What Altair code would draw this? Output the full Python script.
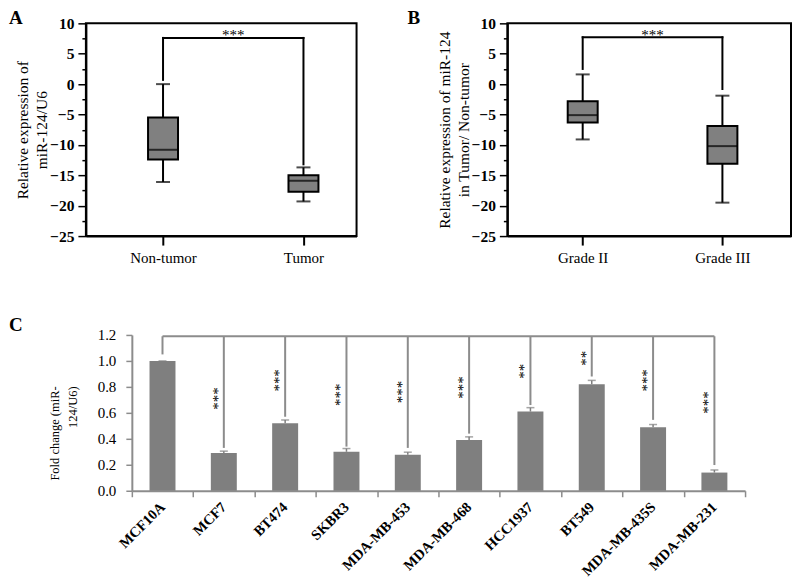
import altair as alt
import pandas as pd

SERIF = "Liberation Serif"

# ---------------- Panel A data ----------------
a_groups = ["Non-tumor", "Tumor"]
a_min = [-16.1, -19.3]
a_q1 = [-12.4, -17.7]
a_med = [-10.8, -15.9]
a_q3 = [-5.5, -15.0]
a_max = [0.0, -13.7]
a_bracket = [7.6, 0.7, -13.2]          # top, left end, right end
a_sig = "***"

# ---------------- Panel B data ----------------
b_groups = ["Grade II", "Grade III"]
b_min = [-9.1, -19.5]
b_q1 = [-6.3, -13.1]
b_med = [-5.1, -10.2]
b_q3 = [-2.8, -6.9]
b_max = [1.6, -1.9]
b_bracket = [7.7, 2.5, -0.8]
b_sig = "***"

# ---------------- Panel C data ----------------
c_lines = ["MCF10A", "MCF7", "BT474", "SKBR3", "MDA-MB-453", "MDA-MB-468",
           "HCC1937", "BT549", "MDA-MB-435S", "MDA-MB-231"]
c_fold = [1.00, 0.29, 0.52, 0.30, 0.277, 0.39, 0.61, 0.82, 0.49, 0.14]
c_err = [0.0, 0.015, 0.025, 0.025, 0.02, 0.025, 0.03, 0.03, 0.02, 0.02]
c_sig = ["", "***", "***", "***", "***", "***", "**", "**", "***", "***"]
c_sig_y = [0.0, 0.71, 0.85, 0.74, 0.76, 0.795, 0.92, 1.02, 0.85, 0.68]
c_line_end = [1.05, 0.33, 0.57, 0.34, 0.33, 0.44, 0.66, 0.88, 0.546, 0.198]
c_bracket_top = 1.19


def box_panel(groups, mn, q1, med, q3, mx, br, sig, ytitle, letter, letter_x, xdom, width):
    df = pd.DataFrame({"pos": [1, 2], "group": groups, "lo": mn, "q1": q1,
                       "med": med, "q3": q3, "hi": mx})
    xsc = alt.Scale(domain=xdom, nice=False, zero=False)
    ysc = alt.Scale(domain=[-25, 10], nice=False, zero=False)
    label_expr = "datum.value == 1 ? '{}' : datum.value == 2 ? '{}' : ''".format(*groups)
    xax = alt.Axis(values=[1, 2], labelExpr=label_expr, title=None, grid=False,
                   labelFont=SERIF, labelFontSize=15, labelColor="black",
                   tickColor="black", tickWidth=2, tickSize=9, labelPadding=5,
                   domainColor="black", domainWidth=2)
    yax = alt.Axis(values=[-25 + 2.5 * i for i in range(15)],
                   labelExpr="datum.value % 5 == 0 ? datum.label : ''",
                   grid=False, labelFont=SERIF, labelFontSize=15.5, labelFontWeight="bold",
                   labelColor="black", tickColor="black", tickWidth=1.5,
                   tickSize={"condition": {"test": "datum.value % 5 == 0", "value": 8}, "value": 4},
                   labelPadding=4, domainColor="black", domainWidth=2,
                   title=ytitle, titleFont=SERIF, titleFontSize=15.5, titleFontWeight="normal",
                   titleColor="black", titleAngle=270, titleAlign="center", titleBaseline="top",
                   titleX=-70, titleY=106.5, titleLineHeight=19)
    X = alt.X("pos:Q", scale=xsc, axis=xax)
    base = alt.Chart(df)
    w_lo = base.mark_rule(color="black", strokeWidth=2).encode(
        x=X, y=alt.Y("lo:Q", scale=ysc, axis=yax), y2="q1:Q")
    w_hi = base.mark_rule(color="black", strokeWidth=2).encode(
        x=X, y=alt.Y("q3:Q", scale=ysc, axis=yax), y2="hi:Q")
    box = base.mark_bar(size=30, fill="#808080", stroke="black", strokeWidth=2).encode(
        x=X, y=alt.Y("q1:Q", scale=ysc, axis=yax), y2="q3:Q")
    medl = base.mark_tick(orient="horizontal", size=30, thickness=2, color="black").encode(
        x=X, y=alt.Y("med:Q", scale=ysc, axis=yax))
    cap_hi = base.mark_tick(orient="horizontal", size=14, thickness=2, color="black").encode(
        x=X, y=alt.Y("hi:Q", scale=ysc, axis=yax))
    cap_lo = base.mark_tick(orient="horizontal", size=14, thickness=2, color="black").encode(
        x=X, y=alt.Y("lo:Q", scale=ysc, axis=yax))
    bdf = pd.DataFrame({"x": [1, 1, 2], "x2": [2, 1, 2],
                        "y": [br[0], br[0], br[0]], "y2": [br[0], br[1], br[2]]})
    brk = alt.Chart(bdf).mark_rule(color="black", strokeWidth=2, strokeCap="square").encode(
        x=alt.X("x:Q", scale=xsc, axis=xax), x2="x2:Q",
        y=alt.Y("y:Q", scale=ysc, axis=yax), y2="y2:Q")
    sdf = pd.DataFrame({"x": [1.5], "y": [br[0]], "t": [sig]})
    stars = alt.Chart(sdf).mark_text(font=SERIF, fontSize=15, color="black",
                                     baseline="alphabetic", dy=2.5).encode(
        x=alt.X("x:Q", scale=xsc, axis=xax), y=alt.Y("y:Q", scale=ysc, axis=yax), text="t:N")
    ldf = pd.DataFrame({"t": [letter]})
    let = alt.Chart(ldf).mark_text(font=SERIF, fontSize=19, fontWeight="bold", color="black",
                                   align="left", baseline="top").encode(
        x=alt.value(letter_x), y=alt.value(-14), text="t:N")
    return alt.layer(w_lo, w_hi, box, medl, cap_hi, cap_lo, brk, stars, let).properties(
        width=width, height=213,
        view=alt.ViewBackground(stroke="black", strokeWidth=2))


A = box_panel(a_groups, a_min, a_q1, a_med, a_q3, a_max, a_bracket, a_sig,
              ["Relative expression of", "miR-124/U6"], "A", -77, [0.4863, 2.3425], 271)
B = box_panel(b_groups, b_min, b_q1, b_med, b_q3, b_max, b_bracket, b_sig,
              ["Relative expression of miR-124", "in Tumor/ Non-tumor"], "B", -100,
              [0.4966, 2.4552], 284)

# ---------------- Panel C ----------------
cdf = pd.DataFrame({"cell": c_lines, "fold": c_fold, "err": c_err, "sig": c_sig,
                    "sig_y": c_sig_y, "end": c_line_end})
cdf["top"] = cdf["fold"] + cdf["err"]
cdf["brtop"] = c_bracket_top

GRAY = "#8c8c8c"
cxax = alt.Axis(labelAngle=-45, labelAlign="right", labelBaseline="middle",
                labelFont=SERIF, labelFontSize=14.5, labelFontWeight="bold", labelColor="black",
                tickBand="extent", tickSize=6, tickColor=GRAY, tickWidth=1.5,
                domainColor=GRAY, domainWidth=2, title=None, labelPadding=8, grid=False)
cyax = alt.Axis(values=[0, 0.2, 0.4, 0.6, 0.8, 1.0, 1.2], format=".1f", grid=False,
                labelFont=SERIF, labelFontSize=15, labelColor="black", labelPadding=10,
                tickColor=GRAY, tickWidth=1.5, tickSize=6, domainColor=GRAY, domainWidth=2,
                title=["Fold change (miR-", "124/U6)"], titleFont=SERIF, titleFontSize=12.5,
                titleFontWeight="normal", titleColor="black", titleAngle=270,
                titleAlign="right", titleBaseline="top", titleX=-83, titleY=51,
                titleLineHeight=18)
cxs = alt.X("cell:N", sort=c_lines, scale=alt.Scale(paddingInner=0, paddingOuter=0), axis=cxax)
cys = alt.Scale(domain=[0, 1.2], nice=False, zero=True)
cbase = alt.Chart(cdf)
bars = cbase.mark_bar(size=26, color="#7f7f7f").encode(
    x=cxs, y=alt.Y("fold:Q", scale=cys, axis=cyax))
errs = cbase.mark_rule(color="#7f7f7f", strokeWidth=1.5).encode(
    x=cxs, y=alt.Y("fold:Q", scale=cys, axis=cyax), y2="top:Q")
caps = cbase.mark_tick(orient="horizontal", size=8, thickness=1.5, color="#7f7f7f").encode(
    x=cxs, y=alt.Y("top:Q", scale=cys, axis=cyax))
verts = cbase.mark_rule(color=GRAY, strokeWidth=2).encode(
    x=cxs, y=alt.Y("brtop:Q", scale=cys, axis=cyax), y2="end:Q")
hline = cbase.mark_line(color=GRAY, strokeWidth=2).encode(
    x=cxs, y=alt.Y("brtop:Q", scale=cys, axis=cyax))
cstars = cbase.transform_filter("datum.sig != ''").mark_text(
    font=SERIF, fontSize=15, color="black", angle=270, baseline="middle", dy=-6).encode(
    x=cxs, y=alt.Y("sig_y:Q", scale=cys, axis=cyax), text="sig:N")
cl = alt.Chart(pd.DataFrame({"t": ["C"]})).mark_text(
    font=SERIF, fontSize=19, fontWeight="bold", color="black", align="left", baseline="top").encode(
    x=alt.value(-123), y=alt.value(-19), text="t:N")
C = alt.layer(bars, errs, caps, verts, hline, cstars, cl).properties(width=614, height=156)

spacer = alt.Chart(pd.DataFrame({"t": [""]})).mark_text().encode(
    text="t:N", x=alt.value(0), y=alt.value(0)).properties(width=46, height=156)

row1 = alt.hconcat(A, B, spacing=151, bounds="flush")
row2 = alt.hconcat(spacer, C, spacing=0, bounds="flush")
chart = alt.vconcat(row1, row2, spacing=50, bounds="full").properties(
    padding=0, background="white"
).configure_view(stroke=None)

chart.save("out.html", embed_options={"renderer": "svg", "actions": False})
